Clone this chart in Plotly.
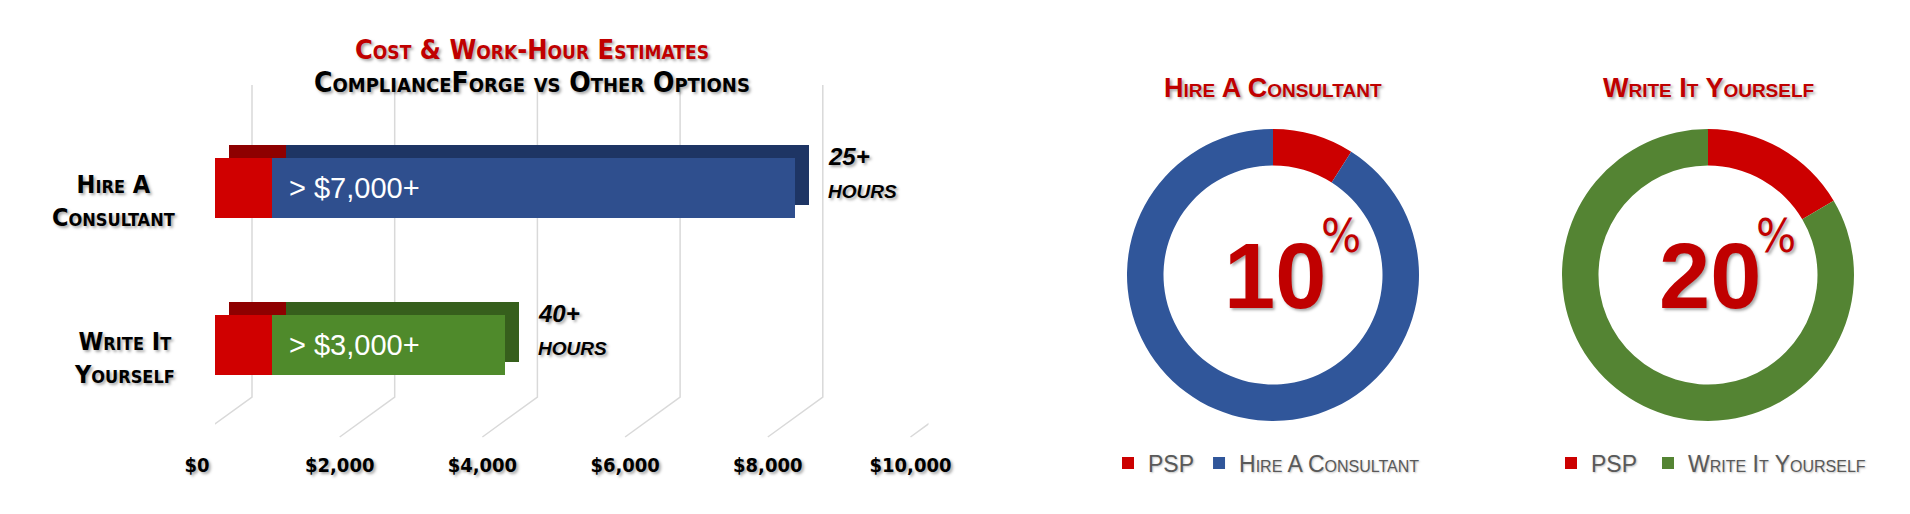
import plotly.graph_objects as go

# ---------------- data ----------------
categories = ["Hire A Consultant", "Write It Yourself"]
category_labels = ["Hire A<br>Consultant", "Write It<br>Yourself"]
psp_cost = [800, 800]
option_cost = [7330, 3270]
cost_labels = ["> $7,000+", "> $3,000+"]
hours_labels = ["25+", "40+"]
hours_unit = "Hours"
tick_values = [0, 2000, 4000, 6000, 8000, 10000]
tick_labels = ["$0", "$2,000", "$4,000", "$6,000", "$8,000", "$10,000"]

donut_titles = ["Hire A Consultant", "Write It Yourself"]
donut_psp_labels = ["PSP", "PSP "]
donut_psp_share = [9, 16.5]
donut_option_share = [91, 83.5]
donut_center_text = ["10", "20"]

chart_title = "Cost & Work-Hour Estimates"
chart_subtitle = "ComplianceForge vs Other Options"

# ---------------- style ----------------
W, H = 1910, 514
def px(x):
    return x / W
def py(y):
    return 1 - y / H

NARROW = "Liberation Sans Narrow, DejaVu Sans Condensed, Arial Narrow, sans-serif"
SANS = "Liberation Sans, Arial, sans-serif"
SHADOW = "2px 2px 3px rgba(0,0,0,0.35)"

RED = "#d00000"
RED_DARK = "#8e0000"
BLUE = "#2f4f8e"
BLUE_DARK = "#1e3564"
GREEN = "#4f8a2b"
GREEN_DARK = "#365f1c"
PIE_RED = "#cc0000"
PIE_BLUE = "#30569a"
PIE_GREEN = "#548433"
TITLE_RED = "#c00000"
GRID = "#d9d9d9"

fig = go.Figure()

# back (depth) faces of the 3D bars
fig.add_trace(go.Bar(y=categories, x=psp_cost, orientation="h", width=0.38,
                     marker=dict(color=RED_DARK, line=dict(width=0)),
                     xaxis="x", yaxis="y", showlegend=False, hoverinfo="skip"))
fig.add_trace(go.Bar(y=categories, x=option_cost, orientation="h", width=0.38,
                     marker=dict(color=[BLUE_DARK, GREEN_DARK], line=dict(width=0)),
                     xaxis="x", yaxis="y", showlegend=False, hoverinfo="skip"))
# front faces
fig.add_trace(go.Bar(y=categories, x=psp_cost, orientation="h", width=0.38, name="PSP",
                     marker=dict(color=RED, line=dict(width=0)),
                     xaxis="x2", yaxis="y2", showlegend=False))
fig.add_trace(go.Bar(y=categories, x=option_cost, orientation="h", width=0.38, name="Other option",
                     marker=dict(color=[BLUE, GREEN], line=dict(width=0)),
                     xaxis="x2", yaxis="y2", showlegend=False))

# donuts
pie_domains_x = [[px(1127), px(1419)], [px(1562), px(1854)]]
option_colors = [PIE_BLUE, PIE_GREEN]
legend_ids = ["legend", "legend2"]
for i in range(2):
    fig.add_trace(go.Pie(
        labels=[donut_psp_labels[i], donut_titles[i]],
        values=[donut_psp_share[i], donut_option_share[i]],
        hole=0.75, sort=False, direction="clockwise", rotation=0,
        marker=dict(colors=[PIE_RED, option_colors[i]], line=dict(width=0)),
        textinfo="none",
        domain=dict(x=pie_domains_x[i], y=[py(421), py(129)]),
        legend=legend_ids[i], showlegend=True,
    ))

# gridlines (back wall + floor diagonal), anchored to the cost axis values
shapes = []
for v in tick_values:
    shapes.append(dict(type="path", xref="x2", xsizemode="pixel", xanchor=v,
                       yref="paper", ysizemode="pixel", yanchor=py(397),
                       path="M 37 312 L 37 0 L -18 -40",
                       line=dict(color=GRID, width=1.5), layer="below"))

annotations = []
annotations.append(dict(text=chart_title, x=px(532), y=py(50), xref="paper", yref="paper",
                        showarrow=False, xanchor="center", yanchor="middle",
                        font=dict(family=NARROW, size=27, color=TITLE_RED, weight="bold",
                                  variant="small-caps", shadow=SHADOW)))
annotations.append(dict(text=chart_subtitle, x=px(532), y=py(83), xref="paper", yref="paper",
                        showarrow=False, xanchor="center", yanchor="middle",
                        font=dict(family=NARROW, size=28, color="#000000", weight="bold",
                                  variant="small-caps", shadow=SHADOW)))
for i, c in enumerate(categories):
    annotations.append(dict(text=category_labels[i], x=px(177), y=c, xref="paper", yref="y2",
                            showarrow=False, xanchor="right", yanchor="middle", align="center",
                            yshift=-13,
                            font=dict(family=NARROW, size=25, color="#000000", weight="bold",
                                      variant="small-caps", shadow=SHADOW)))
    annotations.append(dict(text=cost_labels[i], x=psp_cost[i], y=c, xref="x2", yref="y2",
                            showarrow=False, xanchor="left", yanchor="middle", xshift=15,
                            font=dict(family=SANS, size=29, color="#ffffff")))
    total = psp_cost[i] + option_cost[i]
    annotations.append(dict(text=hours_labels[i], x=total, y=c, xref="x2", yref="y2",
                            showarrow=False, xanchor="left", yanchor="middle", xshift=31, yshift=32,
                            font=dict(family=SANS, size=24, color="#000000", weight="bold",
                                      style="italic", shadow=SHADOW)))
    annotations.append(dict(text=hours_unit, x=total, y=c, xref="x2", yref="y2",
                            showarrow=False, xanchor="left", yanchor="middle", xshift=31, yshift=-3,
                            font=dict(family=SANS, size=19, color="#000000", weight="bold",
                                      style="italic", textcase="upper", shadow=SHADOW)))

donut_cx = [1273, 1708]
for i in range(2):
    annotations.append(dict(text=donut_titles[i], x=px(donut_cx[i]), y=py(88), xref="paper", yref="paper",
                            showarrow=False, xanchor="center", yanchor="middle",
                            font=dict(family=SANS, size=27, color=TITLE_RED, weight="bold",
                                      variant="small-caps", shadow=SHADOW)))
    annotations.append(dict(text=donut_center_text[i], x=px(donut_cx[i] + 2), y=py(276), xref="paper", yref="paper",
                            showarrow=False, xanchor="center", yanchor="middle",
                            font=dict(family=SANS, size=92, color=TITLE_RED, weight="bold", shadow=SHADOW)))
    annotations.append(dict(text="%", x=px(donut_cx[i] + 68), y=py(236), xref="paper", yref="paper",
                            showarrow=False, xanchor="center", yanchor="middle",
                            font=dict(family=NARROW, size=47, color=TITLE_RED, shadow=SHADOW)))

legend_font = dict(family=SANS, size=23, color="#595959", variant="small-caps",
                   shadow="1px 1px 2px rgba(0,0,0,0.25)")
fig.update_layout(
    width=W, height=H, autosize=False,
    margin=dict(l=0, r=0, t=0, b=0, autoexpand=False),
    paper_bgcolor="#ffffff", plot_bgcolor="rgba(0,0,0,0)",
    barmode="stack",
    xaxis=dict(domain=[px(229), px(942.5)], range=[0, 10000], visible=False, anchor="y",
               fixedrange=True),
    yaxis=dict(domain=[py(410.5), py(96.5)], type="category", categoryorder="array",
               categoryarray=categories, range=[1.5, -0.5], visible=False, anchor="x"),
    xaxis2=dict(domain=[px(215), px(928.5)], range=[0, 10000], anchor="y2",
                tickmode="array", tickvals=tick_values, ticktext=tick_labels,
                showgrid=False, zeroline=False, showline=False, ticks="",
                ticklabelshift=-18, ticklabelstandoff=27,
                tickfont=dict(family=NARROW, size=20, color="#000000", weight="bold", shadow=SHADOW)),
    yaxis2=dict(domain=[py(423.5), py(109.5)], type="category", categoryorder="array",
                categoryarray=categories, range=[1.5, -0.5], visible=False, anchor="x2"),
    legend=dict(x=px(1108), y=py(463), xanchor="left", yanchor="middle", orientation="h",
                bgcolor="rgba(0,0,0,0)", font=legend_font, traceorder="normal"),
    legend2=dict(x=px(1551), y=py(463), xanchor="left", yanchor="middle", orientation="h",
                 bgcolor="rgba(0,0,0,0)", font=legend_font, traceorder="normal"),
    shapes=shapes,
    annotations=annotations,
)

fig.write_html("out.html")
